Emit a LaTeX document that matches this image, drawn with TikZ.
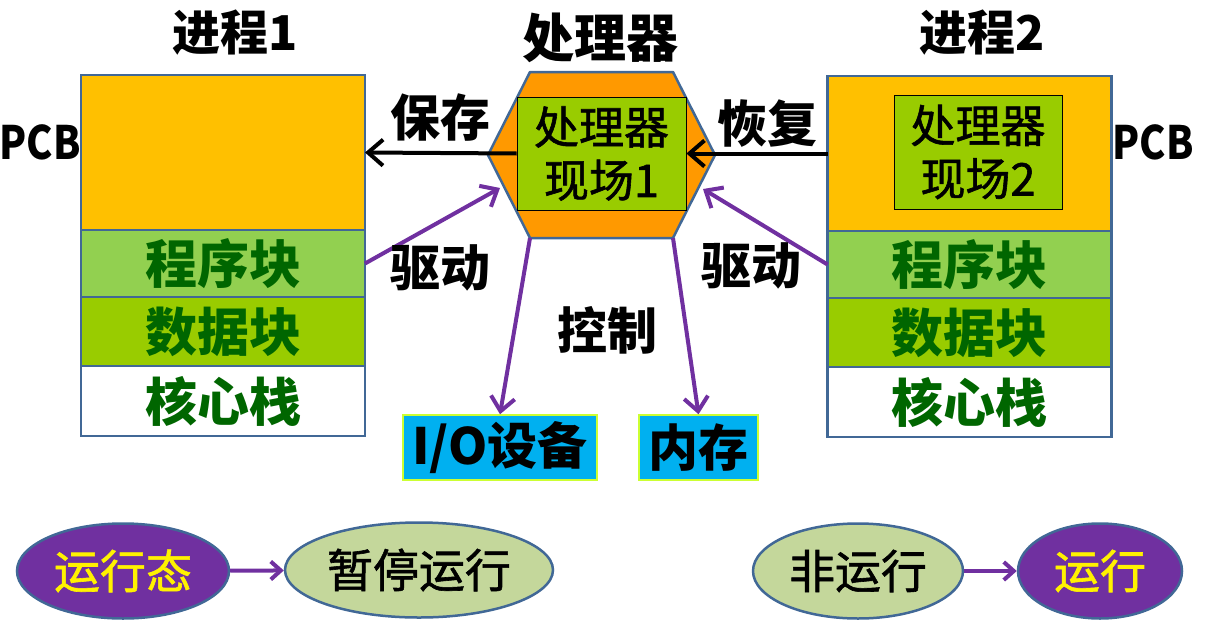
\documentclass[tikz,border=0pt]{standalone}
\usepackage{fontspec}
\setmainfont{Noto Sans CJK SC}
\newfontfamily\heavycjk{Noto Sans CJK SC}[FakeBold=1.3]
\usetikzlibrary{positioning, arrows.meta, shapes.geometric}

\definecolor{pcbyellow}{RGB}{255,192,0}
\definecolor{proggreen}{RGB}{146,208,80}
\definecolor{datagreen}{RGB}{153,204,0}
\definecolor{textgreen}{RGB}{0,102,0}
\definecolor{edgeblue}{RGB}{65,104,150}
\definecolor{cpuorange}{RGB}{255,153,0}
\definecolor{drivepurple}{RGB}{112,48,160}
\definecolor{devcyan}{RGB}{0,176,240}
\definecolor{devedge}{RGB}{204,255,51}
\definecolor{statgreen}{RGB}{196,215,155}

\tikzset{
    part/.style={draw=edgeblue, line width=2.5pt, minimum width=284pt, outer sep=0pt,
        inner sep=0pt, text=textgreen, font=\fontsize{52}{56}\selectfont\bfseries},
    lbl/.style={inner sep=0pt, font=\fontsize{50}{54}\selectfont\bfseries},
    scene/.style={draw=black, line width=0.8pt, fill=datagreen, align=center,
        inner sep=0pt, minimum width=169pt, minimum height=113pt,
        font=\fontsize{45}{53}\heavycjk},
    device/.style={draw=devedge, line width=1.5pt, fill=devcyan, inner sep=0pt,
        minimum height=65pt, font=\fontsize{50}{54}\selectfont\bfseries},
    state/.style={ellipse, draw=edgeblue, line width=2.5pt, inner sep=0pt,
        minimum height=95pt, font=\fontsize{46}{46}\heavycjk},
    savearrow/.style={line width=4pt, -{Straight Barb[length=15pt,width=26pt]}},
    drive/.style={draw=drivepurple, line width=4pt, -{Straight Barb[length=14pt,width=24pt]}},
    flow/.style={draw=drivepurple, line width=4pt, -{Straight Barb[length=10pt,width=18pt]}},
}

\begin{document}
\begin{tikzpicture}[x=1pt, y=-1pt]
    \useasboundingbox (0,0) rectangle (1220,621);

    % process 1
    \node[part, fill=pcbyellow, minimum height=155pt] (pcb1) at (223,152.5) {};
    \node[part, fill=proggreen, minimum height=67pt, below=0pt of pcb1] (prog1) {程序块};
    \node[part, fill=datagreen, minimum height=69pt, below=0pt of prog1] (data1) {数据块};
    \node[part, fill=white, minimum height=70pt, below=0pt of data1] (stack1) {核心栈};
    \node[lbl, font=\fontsize{48}{52}\selectfont\bfseries] (name1) at (235,33) {进程1};
    \node[lbl, font=\fontsize{46}{50}\selectfont\bfseries] (pcblbl1) at (40,142) {\scalebox{0.86}[1]{PCB}};

    % process 2
    \node[part, fill=pcbyellow, minimum height=155pt] (pcb2) at (969.5,153.5) {};
    \node[part, fill=proggreen, minimum height=67pt, below=0pt of pcb2] (prog2) {程序块};
    \node[part, fill=datagreen, minimum height=69pt, below=0pt of prog2] (data2) {数据块};
    \node[part, fill=white, minimum height=70pt, below=0pt of data2] (stack2) {核心栈};
    \node[scene, minimum width=168pt, minimum height=114pt] (cpu2) at (978,152) {处理器\\现场2};
    \node[lbl, font=\fontsize{48}{52}\selectfont\bfseries] (name2) at (982,33) {进程2};
    \node[lbl, font=\fontsize{46}{50}\selectfont\bfseries] (pcblbl2) at (1153,142) {\scalebox{0.86}[1]{PCB}};

    % processor
    \coordinate (hexL) at (488,155);
    \coordinate (hexTL) at (530,72);
    \coordinate (hexTR) at (673,72);
    \coordinate (hexR) at (715,155);
    \coordinate (hexBR) at (673,238);
    \coordinate (hexBL) at (530,238);
    \draw[fill=cpuorange, draw=edgeblue, line width=2.5pt, line join=round]
        (hexL) -- (hexTL) -- (hexTR) -- (hexR) -- (hexBR) -- (hexBL) -- cycle;
    \node[scene] (cpu1) at (601.5,153.5) {处理器\\现场1};
    \node[lbl, font=\fontsize{52}{56}\selectfont\bfseries] (cpuname) at (600,38) {处理器};

    % devices
    \node[device, minimum width=194pt] (io) at (500,447.5) {I/O设备};
    \node[device, minimum width=119pt] (mem) at (698.5,447.5) {内存};

    % save / restore
    \draw[savearrow] (cpu1.west) -- (pcb1.east);
    \draw[savearrow] (pcb2.west) -- (cpu1.east);
    \node[lbl] (save) at (440,118) {保存};
    \node[lbl] (restore) at (767,124) {恢复};

    % drive and control
    \coordinate (drvL) at (500,188);
    \coordinate (drvR) at (703,189);
    \draw[drive] (prog1.east) -- (drvL);
    \draw[drive] (prog2.west) -- (drvR);
    \draw[drive] (hexBL) -- (io.north);
    \draw[drive] (hexBR) -- (mem.north);
    \node[lbl] (drive1) at (440,268) {驱动};
    \node[lbl] (drive2) at (751,266) {驱动};
    \node[lbl] (ctrl) at (607,330) {控制};

    % states
    \node[state, fill=drivepurple, text=yellow, minimum width=212pt] (run1) at (123,571) {运行态};
    \node[state, fill=statgreen, minimum width=268pt] (pause) at (419,570) {暂停运行};
    \node[state, fill=statgreen, minimum width=210pt] (idle) at (858,571) {非运行};
    \node[state, fill=drivepurple, text=yellow, minimum width=164pt] (run2) at (1100,571) {运行};
    \draw[flow] (run1) -- (pause);
    \draw[flow] (idle) -- (run2);
\end{tikzpicture}
\end{document}
